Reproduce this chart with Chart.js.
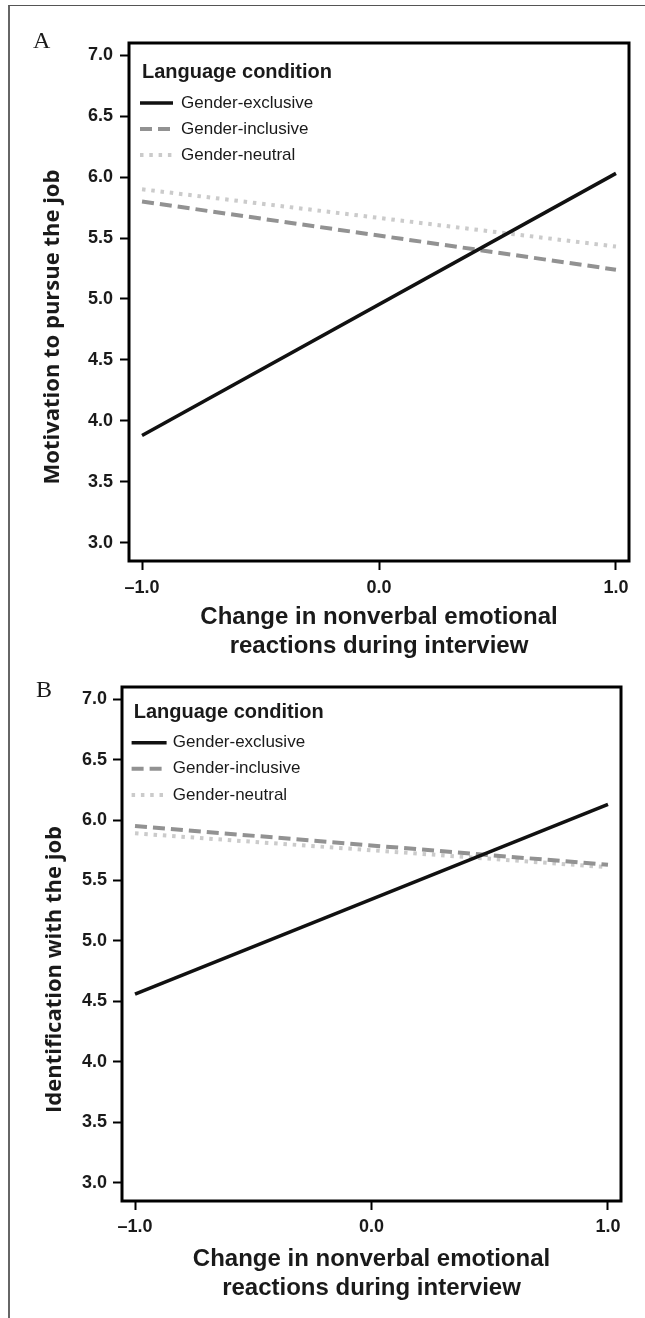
<!DOCTYPE html>
<html>
<head>
<meta charset="utf-8">
<script src="https://cdn.jsdelivr.net/npm/chart.js@4.4.1/dist/chart.umd.min.js"></script>
<style>
  html, body { margin: 0; padding: 0; background: #fff; }
  body { width: 645px; height: 1318px; position: relative; overflow: hidden; }
  .frame {
    position: absolute; left: 8px; top: 5px; right: -20px; bottom: -20px;
    border-top: 1.5px solid #555; border-left: 2px solid #666;
  }
  canvas { position: absolute; left: 0; }
  #chartA { top: 0; }
  #chartB { top: 665px; }
</style>
</head>
<body>
<div class="frame"></div>
<canvas id="chartA" width="645" height="665"></canvas>
<canvas id="chartB" width="645" height="653"></canvas>
<script>
// ─── Data ─────────────────────────────────────────────────────────────────────

const X_VALUES = [-1, 1];
const X_TICKS = [-1, 0, 1];
const X_TICK_LABELS = ['–1.0', '0.0', '1.0'];
const Y_TICKS = [3.0, 3.5, 4.0, 4.5, 5.0, 5.5, 6.0, 6.5, 7.0];

const CONDITIONS = ['Gender-exclusive', 'Gender-inclusive', 'Gender-neutral'];

const MOTIVATION_EXCLUSIVE = [3.88, 6.03];
const MOTIVATION_INCLUSIVE = [5.80, 5.24];
const MOTIVATION_NEUTRAL = [5.90, 5.43];

const IDENTIFICATION_EXCLUSIVE = [4.56, 6.13];
const IDENTIFICATION_INCLUSIVE = [5.95, 5.63];
const IDENTIFICATION_NEUTRAL = [5.89, 5.61];

const LEGEND_TITLE = 'Language condition';
const X_TITLE = ['Change in nonverbal emotional', 'reactions during interview'];

// ─── Styles ───────────────────────────────────────────────────────────────────

const TEXT_COLOR = '#1a1a1a';
const TICK_FONT = { family: 'Liberation Sans', weight: 'bold', size: 18 };

const LINE_STYLES = [
  { color: '#111111', width: 3.6, dash: [] },
  { color: '#929292', width: 4, dash: [12, 6] },
  { color: '#cbcbcb', width: 4, dash: [3.5, 5.8] },
];

// box, panel letter, y title and legend drawn over the chart area
const panelDecor = {
  id: 'panelDecor',
  afterDraw(chart, args, opts) {
    const { ctx, chartArea: a } = chart;
    ctx.save();

    ctx.strokeStyle = '#000';
    ctx.lineWidth = 3;
    ctx.strokeRect(a.left, a.top, a.right - a.left, a.bottom - a.top);

    ctx.fillStyle = TEXT_COLOR;
    ctx.textAlign = 'left';
    ctx.textBaseline = 'alphabetic';
    ctx.font = '24px "Liberation Serif", serif';
    ctx.fillText(opts.letter, opts.letterX, opts.letterY);

    ctx.save();
    ctx.translate(opts.yTitleX, opts.yTitleY);
    ctx.rotate(-Math.PI / 2);
    ctx.textAlign = 'center';
    ctx.textBaseline = 'middle';
    ctx.font = 'bold 22px "Open Sans", sans-serif';
    ctx.fillText(opts.yTitle, 0, 0);
    ctx.restore();

    const lg = opts.legend;
    ctx.textBaseline = 'middle';
    ctx.font = 'bold 20px "Liberation Sans", sans-serif';
    ctx.fillText(LEGEND_TITLE, a.left + lg.titleDx, a.top + lg.titleDy);

    ctx.font = '17px "Liberation Sans", sans-serif';
    chart.data.datasets.forEach((ds, i) => {
      const y = a.top + lg.rowDy[i];
      ctx.strokeStyle = ds.borderColor;
      ctx.lineWidth = ds.borderWidth;
      ctx.setLineDash(ds.borderDash || []);
      ctx.beginPath();
      ctx.moveTo(a.left + lg.sampleDx, y);
      ctx.lineTo(a.left + lg.sampleDx + lg.sampleLen, y);
      ctx.stroke();
      ctx.setLineDash([]);
      ctx.fillStyle = TEXT_COLOR;
      ctx.fillText(ds.label, a.left + lg.textDx, y);
    });

    ctx.restore();
  },
};

// ─── Chart ────────────────────────────────────────────────────────────────────

const tickGrid = {
  drawOnChartArea: false,
  drawTicks: true,
  tickLength: 9,
  tickWidth: 2,
  tickColor: '#000',
  color: '#000',
};

const buildDatasets = (series) =>
  series.map((values, i) => ({
    label: CONDITIONS[i],
    data: X_VALUES.map((x, j) => ({ x, y: values[j] })),
    borderColor: LINE_STYLES[i].color,
    borderWidth: LINE_STYLES[i].width,
    borderDash: LINE_STYLES[i].dash,
    borderCapStyle: 'butt',
    pointRadius: 0,
    tension: 0,
    fill: false,
  }));

const makePanel = (canvasId, series, panel) =>
  new Chart(document.getElementById(canvasId), {
    type: 'line',
    data: { datasets: buildDatasets(series) },
    plugins: [panelDecor],
    options: {
      responsive: false,
      animation: false,
      layout: { padding: panel.padding },
      plugins: {
        legend: { display: false },
        tooltip: { enabled: false },
        panelDecor: panel.decor,
      },
      scales: {
        x: {
          type: 'linear',
          min: -1.055,
          max: 1.055,
          afterBuildTicks: (s) => { s.ticks = X_TICKS.map((value) => ({ value })); },
          afterFit: (s) => { s.height = panel.xHeight; },
          ticks: {
            callback: (v, i) => X_TICK_LABELS[i],
            font: TICK_FONT,
            color: TEXT_COLOR,
            padding: panel.xTickPad,
            maxRotation: 0,
            autoSkip: false,
          },
          grid: tickGrid,
          border: { display: false },
          title: {
            display: true,
            text: X_TITLE,
            color: TEXT_COLOR,
            font: { family: 'Liberation Sans', weight: 'bold', size: 24, lineHeight: 1.2 },
            padding: { top: 0, bottom: panel.xTitlePad },
          },
        },
        y: {
          type: 'linear',
          min: 2.85,
          max: 7.1,
          afterBuildTicks: (s) => { s.ticks = Y_TICKS.map((value) => ({ value })); },
          afterFit: (s) => { s.width = panel.yWidth; },
          ticks: {
            callback: (v) => v.toFixed(1),
            font: TICK_FONT,
            color: TEXT_COLOR,
            padding: panel.yTickPad,
          },
          grid: tickGrid,
          border: { display: false },
        },
      },
    },
  });

makePanel('chartA', [MOTIVATION_EXCLUSIVE, MOTIVATION_INCLUSIVE, MOTIVATION_NEUTRAL], {
  padding: { top: 43, right: 16, left: 0, bottom: 0 },
  xHeight: 104,
  yWidth: 129,
  xTickPad: 7,
  yTickPad: 7,
  xTitlePad: 4,
  decor: {
    letter: 'A', letterX: 33, letterY: 48,
    yTitle: 'Motivation to pursue the job', yTitleX: 53, yTitleY: 327,
    legend: { titleDx: 13, titleDy: 29.5, sampleDx: 11, sampleLen: 33, textDx: 52, rowDy: [60, 86, 112] },
  },
});

makePanel('chartB', [IDENTIFICATION_EXCLUSIVE, IDENTIFICATION_INCLUSIVE, IDENTIFICATION_NEUTRAL], {
  padding: { top: 22, right: 24, left: 0, bottom: 0 },
  xHeight: 117,
  yWidth: 122,
  xTickPad: 6,
  yTickPad: 6,
  xTitlePad: 15,
  decor: {
    letter: 'B', letterX: 36, letterY: 32,
    yTitle: 'Identification with the job', yTitleX: 55, yTitleY: 304.5,
    legend: { titleDx: 11.7, titleDy: 25.7, sampleDx: 9.6, sampleLen: 35, textDx: 50.8, rowDy: [55.7, 81.7, 108] },
  },
});
</script>
</body>
</html>
